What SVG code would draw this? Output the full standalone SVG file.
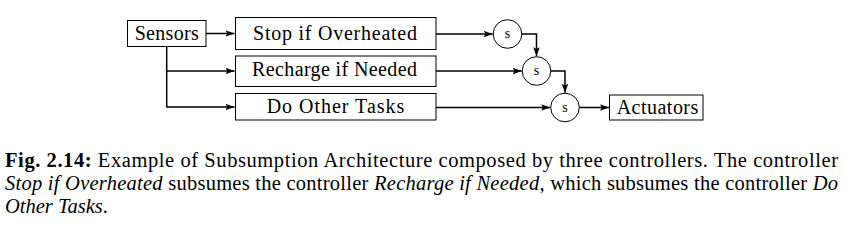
<svg xmlns="http://www.w3.org/2000/svg" width="845" height="233" viewBox="0 0 845 233">
<style>
.box{fill:#fff;stroke:#000;stroke-width:1}
.lbl{font-family:"Liberation Serif","DejaVu Serif",serif;font-size:20px;fill:#000;text-anchor:middle}
.s{font-family:"Liberation Serif","DejaVu Serif",serif;font-size:14px;fill:#000;text-anchor:middle}
.conn{fill:none;stroke:#000;stroke-width:1.5}
.cap{font-family:"Liberation Serif","Times New Roman",serif;font-size:20.5px;fill:#000}
</style>
<defs>
<marker id="arr" markerUnits="userSpaceOnUse" markerWidth="11" markerHeight="8" refX="9" refY="3.25" orient="auto">
<path d="M0,0 L9,3.25 L0,6.5 L1.8,3.25 z" fill="#000"/>
</marker>
</defs>
<g id="connectors">
<path class="conn" d="M206,33.5 H234.5" marker-end="url(#arr)"/>
<path class="conn" d="M166.7,46.5 V107 H234.5" marker-end="url(#arr)"/>
<path class="conn" d="M166.7,71 H234.5" marker-end="url(#arr)"/>
<path class="conn" d="M436,34 H492.7" marker-end="url(#arr)"/>
<path class="conn" d="M436,71 H521.7" marker-end="url(#arr)"/>
<path class="conn" d="M436,107.5 H550.2" marker-end="url(#arr)"/>
<path class="conn" d="M521.8,34 H536.5 V56.2" marker-end="url(#arr)"/>
<path class="conn" d="M550.8,71 H565 V92.7" marker-end="url(#arr)"/>
<path class="conn" d="M579.3,107.5 H609" marker-end="url(#arr)"/>
</g>
<g id="sensors">
<rect class="box" x="127.5" y="20.5" width="78.5" height="26"/>
<text class="lbl" x="166.7" y="40.3" textLength="64">Sensors</text>
</g>
<g id="stop">
<rect class="box" x="235.5" y="17.5" width="200.5" height="32"/>
<text class="lbl" x="335" y="39.5" textLength="164">Stop if Overheated</text>
</g>
<g id="recharge">
<rect class="box" x="235.5" y="56" width="200.5" height="30.5"/>
<text class="lbl" x="334.5" y="76.3" textLength="165">Recharge if Needed</text>
</g>
<g id="other">
<rect class="box" x="235.5" y="93.5" width="200.5" height="26.5"/>
<text class="lbl" x="335.5" y="113.3" textLength="137.6">Do Other Tasks</text>
</g>
<g id="s1">
<circle class="box" cx="507.5" cy="34" r="14.3"/>
<text class="s" x="507.5" y="38">s</text>
</g>
<g id="s2">
<circle class="box" cx="536.5" cy="71" r="14.3"/>
<text class="s" x="536.5" y="75">s</text>
</g>
<g id="s3">
<circle class="box" cx="565" cy="107.5" r="14.3"/>
<text class="s" x="565" y="111.5">s</text>
</g>
<g id="actuators">
<rect class="box" x="609.5" y="95" width="93.5" height="25"/>
<text class="lbl" x="657.5" y="113.5" textLength="81.6">Actuators</text>
</g>
<g id="caption">
<text class="cap" x="5" y="166.5" textLength="833" lengthAdjust="spacing"><tspan font-weight="bold">Fig. 2.14:</tspan> Example of Subsumption Architecture composed by three controllers. The controller</text>
<text class="cap" x="5" y="189.5" textLength="833" lengthAdjust="spacing"><tspan font-style="italic">Stop if Overheated</tspan> subsumes the controller <tspan font-style="italic">Recharge if Needed</tspan>, which subsumes the controller <tspan font-style="italic">Do</tspan></text>
<text class="cap" x="5" y="212.5"><tspan font-style="italic">Other Tasks</tspan>.</text>
</g>
</svg>
